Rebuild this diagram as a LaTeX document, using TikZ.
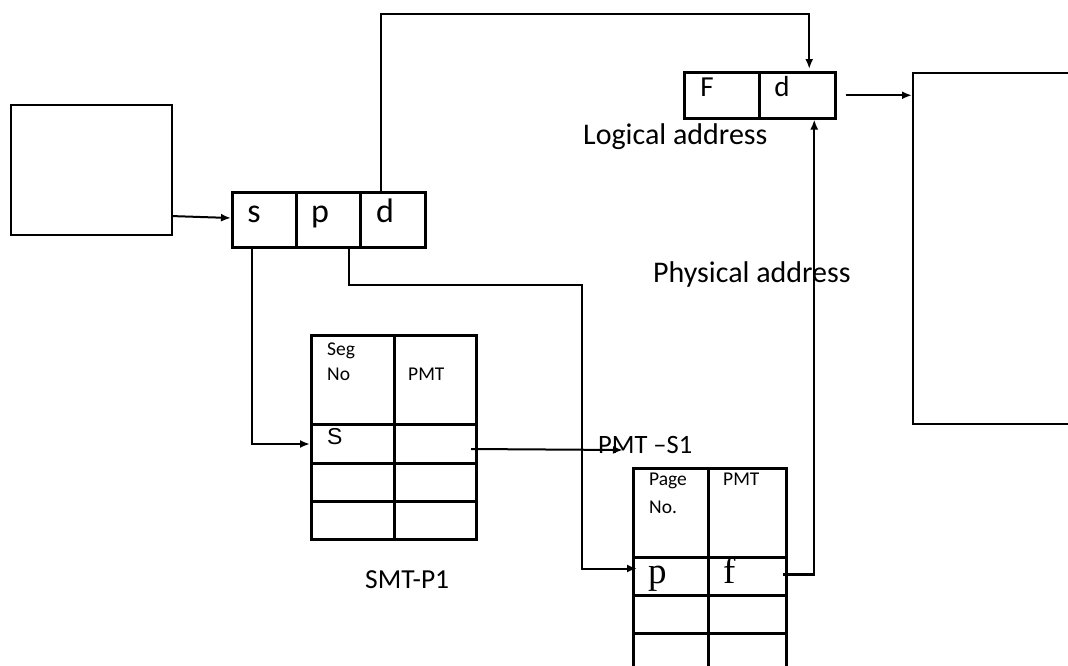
\documentclass[tikz,border=0pt]{standalone}
\usepackage{fontspec}
\setmainfont{Carlito}
\newfontfamily\serifp{Liberation Serif}
\newfontfamily\arialf{Liberation Sans}
\usetikzlibrary{arrows.meta}
\begin{document}
\begin{tikzpicture}[x=1pt,y=-1pt,
  box/.style={draw, line width=2.2pt, inner sep=0pt, anchor=north west},
  cell/.style={draw, line width=3pt, inner sep=0pt, anchor=north west},
  arr/.style={line width=2pt, -{Latex[length=10pt,width=8pt]}},
  txt/.style={inner sep=0pt, anchor=base},
  lbl/.style={inner sep=0pt, anchor=base west},
  big/.style={font=\fontsize{34}{38}\selectfont},
  mid/.style={font=\fontsize{30}{34}\selectfont},
  small/.style={font=\fontsize{19.5}{22}\selectfont}]
\useasboundingbox (0,0) rectangle (1068,665);
\clip (0,0) rectangle (1068,665);

% left box
\node[box, minimum width=161pt, minimum height=130pt] (cpu) at (10,104) {};

% s p d register
\node[cell, minimum width=64pt, minimum height=55pt] (cs) at (231,191) {};
\node[cell, minimum width=64pt, minimum height=55pt] (cp) at (295,191) {};
\node[cell, minimum width=65pt, minimum height=55pt] (cd) at (359,191) {};
\node[txt, big] (ts) at (254,222) {s};
\node[txt, big] (tp) at (320,222) {p};
\node[txt, big] (td) at (385,222) {d};

% F d register
\node[cell, line width=2.5pt, minimum width=75pt, minimum height=46pt] (cF) at (683,71) {};
\node[cell, line width=2.5pt, minimum width=76pt, minimum height=46pt] (cdd) at (758,71) {};
\node[txt, font=\fontsize{29}{32}\selectfont] (tF) at (707,96) {F};
\node[txt, font=\fontsize{29}{32}\selectfont] (tdd) at (782,96) {d};
\node[lbl, mid] (logl) at (583,144) {Logical address};

% memory
\node[box, minimum width=180pt, minimum height=351pt] (mem) at (912,72) {};

\node[lbl, mid] (phys) at (653,282) {Physical address};

% SMT table
\node[cell, minimum width=83pt, minimum height=89pt] (smt11) at (310,334) {};
\node[cell, minimum width=82pt, minimum height=89pt] (smt12) at (393,334) {};
\node[cell, minimum width=83pt, minimum height=39pt] (smt21) at (310,423) {};
\node[cell, minimum width=82pt, minimum height=39pt] (smt22) at (393,423) {};
\node[cell, minimum width=83pt, minimum height=38pt] (smt31) at (310,462) {};
\node[cell, minimum width=82pt, minimum height=38pt] (smt32) at (393,462) {};
\node[cell, minimum width=83pt, minimum height=38pt] (smt41) at (310,500) {};
\node[cell, minimum width=82pt, minimum height=38pt] (smt42) at (393,500) {};
\node[lbl, small] (tseg) at (327,355) {Seg};
\node[lbl, small] (tno) at (327,380) {No};
\node[lbl, small] (tpmt1) at (408,380) {PMT};
\node[lbl, font=\arialf\fontsize{23}{26}\selectfont] (tS) at (327,444) {S};
\node[lbl, font=\fontsize{27.5}{30}\selectfont] (smtlbl) at (365,588) {SMT-P1};

% PMT table
\node[cell, minimum width=75pt, minimum height=89pt] (pmt11) at (632,467) {};
\node[cell, minimum width=78pt, minimum height=89pt] (pmt12) at (707,467) {};
\node[cell, minimum width=75pt, minimum height=38pt] (pmt21) at (632,556) {};
\node[cell, minimum width=78pt, minimum height=38pt] (pmt22) at (707,556) {};
\node[cell, minimum width=75pt, minimum height=38pt] (pmt31) at (632,594) {};
\node[cell, minimum width=78pt, minimum height=38pt] (pmt32) at (707,594) {};
\node[cell, minimum width=75pt, minimum height=50pt] (pmt41) at (632,632) {};
\node[cell, minimum width=78pt, minimum height=50pt] (pmt42) at (707,632) {};
\node[lbl, small] (tpage) at (649,485) {Page};
\node[lbl, small] (tpno) at (649,513) {No.};
\node[lbl, small] (tpmt2) at (723,485) {PMT};
\node[lbl, font=\serifp\fontsize{37}{40}\selectfont] (tpp) at (648,583) {p};
\node[lbl, font=\serifp\fontsize{37}{40}\selectfont] (tff) at (723,583) {f};
\node[lbl, font=\fontsize{26.5}{30}\selectfont] (pmtlbl) at (598,453) {PMT –S1};

% connectors
\draw[arr] ([yshift=-46pt]cpu.east) -- ([yshift=2pt]cs.west);
\draw[arr] ([xshift=-12pt]cd.north) -- ++(0,-177) -| ([xshift=12pt,yshift=2pt]cdd.north);
\draw[arr] ([xshift=9pt]cdd.east) -- (mem.west |- cdd.east);
\draw[arr] ([xshift=-13pt]cs.south) |- (smt21.west);
\coordinate (pbend) at (582,285);
\draw[arr] ([xshift=20pt]cp.south) |- (pbend) |- ([xshift=5pt,yshift=8pt]pmt21.west);
\draw[arr] ([xshift=-7pt,yshift=-5pt]smt22.east) -- ([xshift=25pt,yshift=3pt]pmtlbl.base west);
\draw[arr, line width=2.4pt] ([xshift=-5pt,yshift=2pt]pmt22.east) -| ([xshift=17pt]cdd.south);
\end{tikzpicture}
\end{document}
